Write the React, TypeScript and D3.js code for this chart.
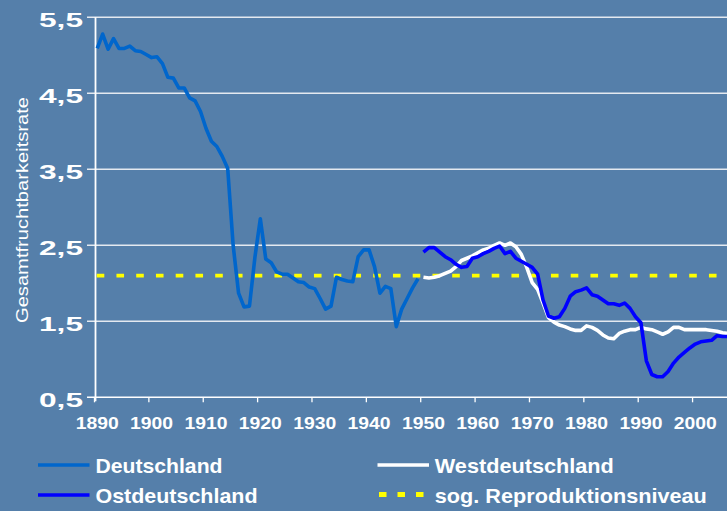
import React from "react";
import * as d3 from "d3";

const yTicks = [0.5, 1.5, 2.5, 3.5, 4.5, 5.5];
const yTickLabels = ["0,5", "1,5", "2,5", "3,5", "4,5", "5,5"];
const xTicks = [1890, 1900, 1910, 1920, 1930, 1940, 1950, 1960, 1970, 1980, 1990, 2000];

const deYears = d3.range(1890, 1950);
const deValues = [
  5.09, 5.28, 5.08, 5.22, 5.09, 5.09, 5.12, 5.06, 5.05, 5.01,
  4.97, 4.98, 4.89, 4.71, 4.70, 4.57, 4.57, 4.44, 4.40, 4.26,
  4.04, 3.87, 3.80, 3.67, 3.51, 2.50, 1.87, 1.69, 1.70, 2.34,
  2.85, 2.32, 2.27, 2.15, 2.12, 2.12, 2.07, 2.02, 2.01, 1.95,
  1.93, 1.80, 1.66, 1.70, 2.08, 2.05, 2.03, 2.02, 2.35, 2.44,
  2.44, 2.22, 1.87, 1.96, 1.93, 1.43, 1.66, 1.80, 1.94, 2.06,
];

const splitYears = d3.range(1950, 2007);
const westValues = [
  2.08, 2.07, 2.08, 2.10, 2.13, 2.16, 2.22, 2.30, 2.33, 2.36,
  2.40, 2.44, 2.46, 2.50, 2.53, 2.50, 2.53, 2.48, 2.38, 2.21,
  2.01, 1.92, 1.74, 1.55, 1.49, 1.45, 1.43, 1.40, 1.38, 1.38,
  1.44, 1.42, 1.38, 1.32, 1.28, 1.27, 1.34, 1.37, 1.39, 1.39,
  1.42, 1.40, 1.39, 1.36, 1.33, 1.36, 1.42, 1.42, 1.39, 1.39,
  1.39, 1.39, 1.39, 1.38, 1.37, 1.35, 1.34,
];
const ostValues = [
  2.41, 2.47, 2.47, 2.41, 2.35, 2.31, 2.25, 2.21, 2.22, 2.33,
  2.35, 2.39, 2.42, 2.46, 2.49, 2.39, 2.42, 2.33, 2.29, 2.25,
  2.21, 2.12, 1.78, 1.57, 1.54, 1.56, 1.67, 1.83, 1.89, 1.91,
  1.94, 1.85, 1.83, 1.78, 1.73, 1.73, 1.71, 1.74, 1.67, 1.56,
  1.48, 0.98, 0.80, 0.77, 0.77, 0.84, 0.95, 1.03, 1.09, 1.15,
  1.20, 1.23, 1.24, 1.25, 1.31, 1.30, 1.30,
];
const reproLevel = 2.1;
const reproYears = [1890, 2004];

const legendItems = [
  { label: "Deutschland", color: "#0066CC", dashed: false },
  { label: "Westdeutschland", color: "#FFFFFF", dashed: false },
  { label: "Ostdeutschland", color: "#0000FF", dashed: false },
  { label: "sog. Reproduktionsniveau", color: "#FFFF00", dashed: true },
];

const W = 727;
const H = 511;
const BG = "#557FAA";
const FONT = "'Liberation Sans', Arial, Helvetica, sans-serif";

export default function App() {
  const x = d3.scaleLinear().domain([1890, 2007]).range([94.5, 94.5 + 117 * 5.437]);
  const y = d3.scaleLinear().domain([0.5, 5.5]).range([397.3, 17.3]);
  const cx = (yr: number) => x(yr + 0.5);

  const line = d3
    .line<[number, number]>()
    .x((d) => cx(d[0]))
    .y((d) => y(d[1]));

  const dePath = line(deYears.map((yr, i) => [yr, deValues[i]]));
  const westPath = line(splitYears.map((yr, i) => [yr, westValues[i]]));
  const ostPath = line(splitYears.map((yr, i) => [yr, ostValues[i]]));

  const legendPos = [
    { lx: 38, tx: 95.5, ty: 473.3, ly: 465, tl: 127 },
    { lx: 377.5, tx: 434.8, ty: 473.3, ly: 465, tl: 179 },
    { lx: 38, tx: 95.5, ty: 503, ly: 495, tl: 162 },
    { lx: 379, tx: 434.8, ty: 503, ly: 494.5, tl: 272 },
  ];

  return (
    <svg
      width={W}
      height={H}
      style={{ position: "fixed", left: 0, top: 0, display: "block" }}
      fontFamily={FONT}
    >
      <rect x={0} y={0} width={W} height={H} fill={BG} />

      {/* gridlines */}
      {yTicks.slice(1).map((t) => (
        <line key={t} x1={87} x2={W} y1={y(t)} y2={y(t)} stroke="#E4E9F0" strokeWidth={1.4} />
      ))}
      {/* x axis */}
      <line x1={87} x2={W} y1={y(0.5)} y2={y(0.5)} stroke="#FFFFFF" strokeWidth={1.5} />
      {xTicks.map((t) => (
        <line key={t} x1={x(t)} x2={x(t)} y1={y(0.5)} y2={y(0.5) + 5} stroke="#FFFFFF" strokeWidth={1.3} />
      ))}
      {/* y axis */}
      <line x1={95.5} x2={95.5} y1={y(5.5)} y2={y(0.5) + 4} stroke="#FFFFFF" strokeWidth={1.8} />

      {/* y tick labels */}
      {yTicks.map((t, i) => (
        <text
          key={t}
          x={39}
          y={y(t) + 9.8}
          fill="#FFFFFF"
          fontSize={19.5}
          fontWeight="bold"
          textLength={44}
          lengthAdjust="spacingAndGlyphs"
        >
          {yTickLabels[i]}
        </text>
      ))}

      {/* x tick labels */}
      {xTicks.map((t) => (
        <text
          key={t}
          x={cx(t) - 21.5}
          y={428.5}
          fill="#FFFFFF"
          fontSize={17}
          fontWeight="bold"
          textLength={43}
          lengthAdjust="spacingAndGlyphs"
        >
          {String(t)}
        </text>
      ))}

      {/* y axis title */}
      <text
        transform={`translate(28, 210) rotate(-90)`}
        x={-113}
        y={0}
        fill="#FFFFFF"
        fontSize={17}
        textLength={226}
        lengthAdjust="spacingAndGlyphs"
      >
        Gesamtfruchtbarkeitsrate
      </text>

      {/* reproduction level */}
      <line
        x1={x(reproYears[0]) + 2.2}
        x2={x(reproYears[1]) + 3}
        y1={y(reproLevel)}
        y2={y(reproLevel)}
        stroke="#FFFF00"
        strokeWidth={3.7}
        strokeDasharray="7.6 12.15"
      />

      {/* data lines */}
      <path d={dePath ?? ""} fill="none" stroke="#0066CC" strokeWidth={3.6} strokeLinejoin="round" />
      <path d={westPath ?? ""} fill="none" stroke="#FFFFFF" strokeWidth={3.6} strokeLinejoin="round" />
      <path d={ostPath ?? ""} fill="none" stroke="#0000FF" strokeWidth={3.6} strokeLinejoin="round" />

      {/* legend */}
      {legendItems.map((item, i) => {
        const p = legendPos[i];
        return (
          <g key={item.label}>
            {item.dashed ? (
              <line
                x1={p.lx}
                x2={p.lx + 47}
                y1={p.ly}
                y2={p.ly}
                stroke={item.color}
                strokeWidth={5}
                strokeDasharray="7.5 11"
              />
            ) : (
              <line x1={p.lx} x2={p.lx + 51.5} y1={p.ly} y2={p.ly} stroke={item.color} strokeWidth={3.5} />
            )}
            <text
              x={p.tx}
              y={p.ty}
              fill="#FFFFFF"
              fontSize={20.5}
              fontWeight="bold"
              textLength={p.tl}
              lengthAdjust="spacingAndGlyphs"
            >
              {item.label}
            </text>
          </g>
        );
      })}
    </svg>
  );
}
